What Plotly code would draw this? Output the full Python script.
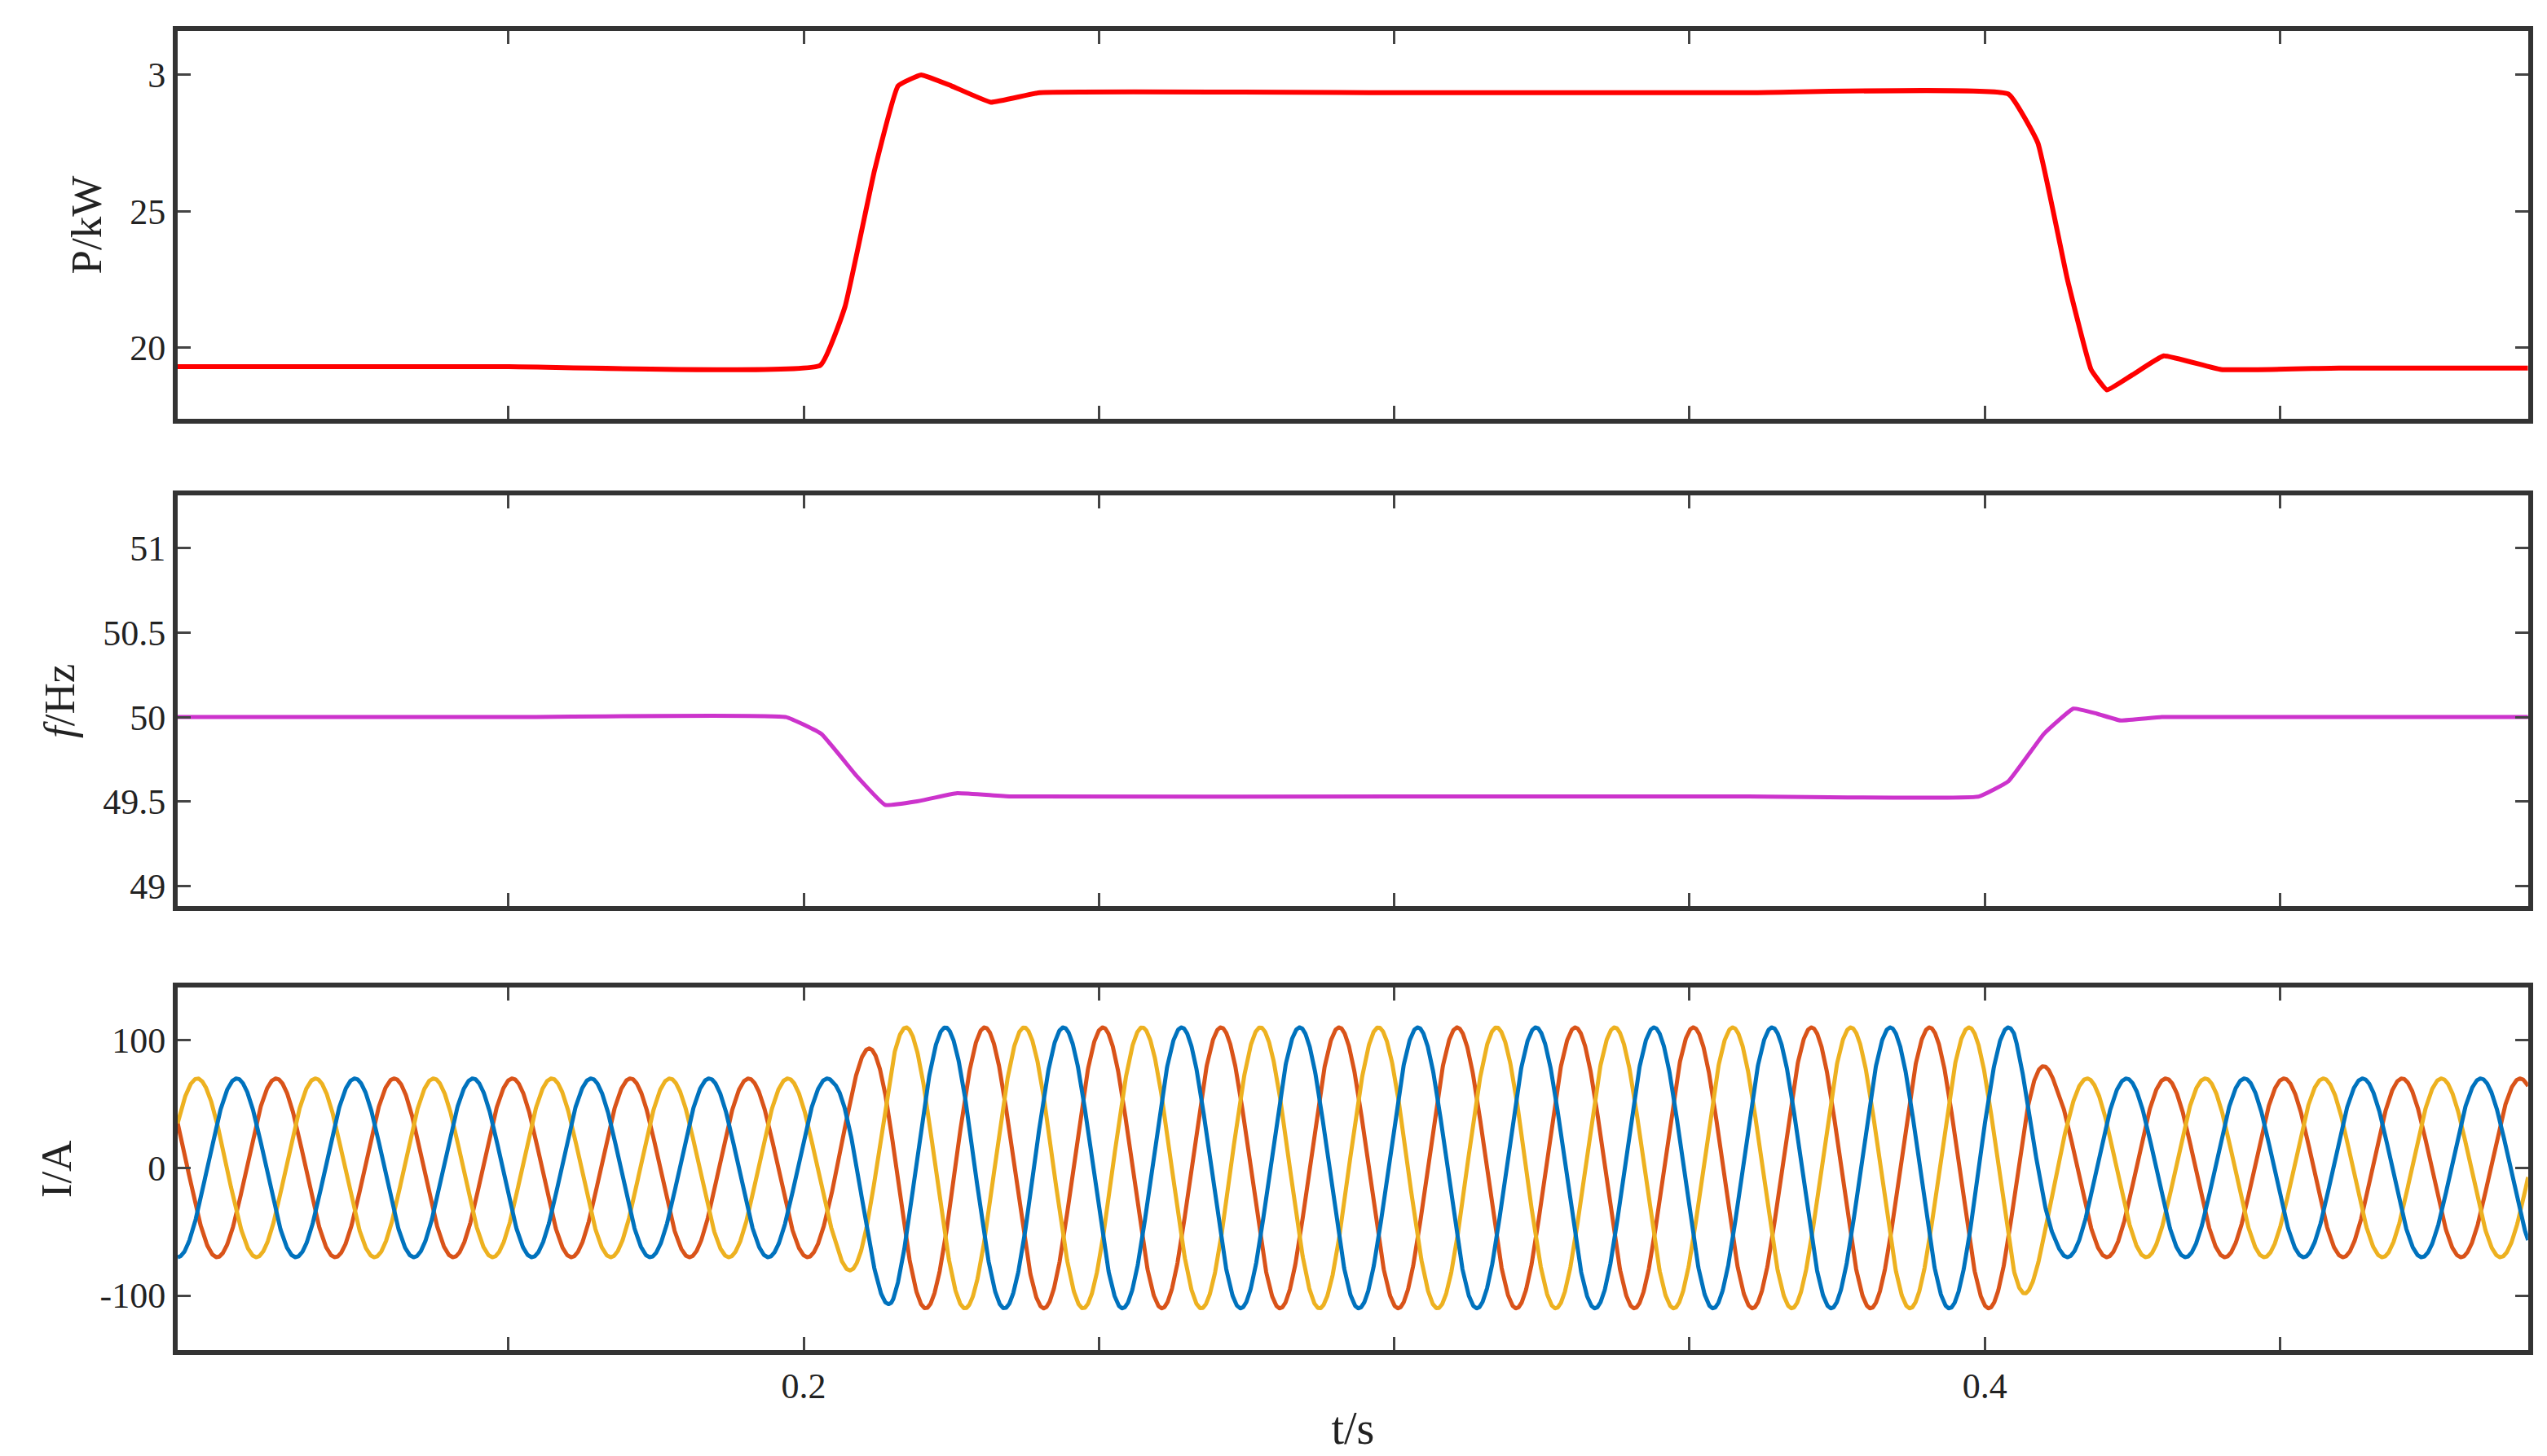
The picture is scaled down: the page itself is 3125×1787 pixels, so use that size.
import numpy as np
import plotly.graph_objects as go
from plotly.subplots import make_subplots

# Power key points (t, kW)
p_t = [0.094, 0.15, 0.2028, 0.207, 0.212, 0.216, 0.2199, 0.225, 0.2317, 0.24, 0.3, 0.36, 0.404, 0.409, 0.414, 0.418, 0.4207, 0.425, 0.4303, 0.44, 0.46, 0.492]
p_v = [19.3, 19.3, 19.35, 21.5, 26.5, 29.6, 30.0, 29.6, 29.0, 29.35, 29.35, 29.35, 29.3, 27.5, 22.5, 19.2, 18.45, 19.0, 19.7, 19.2, 19.25, 19.25]
# Frequency key points (t, Hz)
f_t = [0.094, 0.15, 0.197, 0.203, 0.209, 0.2138, 0.219, 0.226, 0.235, 0.3, 0.36, 0.399, 0.404, 0.41, 0.415, 0.419, 0.423, 0.43, 0.46, 0.492]
f_v = [50.0, 50.0, 50.0, 49.9, 49.65, 49.48, 49.5, 49.55, 49.53, 49.53, 49.53, 49.53, 49.62, 49.9, 50.05, 50.02, 49.98, 50.0, 50.0, 50.0]
# Current envelope key points (t, A amplitude)
i_t = [0.094, 0.205, 0.215, 0.405, 0.412, 0.492]
i_amp = [70, 70, 110, 110, 70, 70]
i_freq = 50.0
i_peak_t = 0.224

t = np.linspace(0.094, 0.492, 6000)
amp = np.interp(t, i_t, i_amp)
w = 2 * np.pi * i_freq
T = 1 / i_freq
ia = amp * np.cos(w * (t - i_peak_t))
ib = amp * np.cos(w * (t - i_peak_t + T / 3))
ic = amp * np.cos(w * (t - i_peak_t + 2 * T / 3))

fig = make_subplots(rows=3, cols=1)
fig.add_trace(go.Scatter(x=p_t, y=p_v, mode="lines", line=dict(color="#ff0000", width=6, shape="spline", smoothing=0.3)), 1, 1)
fig.add_trace(go.Scatter(x=f_t, y=f_v, mode="lines", line=dict(color="#cc33cc", width=5, shape="spline", smoothing=0.3)), 2, 1)
fig.add_trace(go.Scatter(x=t, y=ic, mode="lines", line=dict(color="#d95319", width=5)), 3, 1)
fig.add_trace(go.Scatter(x=t, y=ib, mode="lines", line=dict(color="#edb120", width=5)), 3, 1)
fig.add_trace(go.Scatter(x=t, y=ia, mode="lines", line=dict(color="#0072bd", width=5)), 3, 1)

font = dict(family="Liberation Serif", size=44, color="#222")
fig.update_layout(width=3125, height=1787, showlegend=False, plot_bgcolor="white", paper_bgcolor="white",
                  margin=dict(l=0, r=0, t=0, b=0), font=font)
doms = [[0.717, 0.983], [0.382, 0.664], [0.077, 0.326]]
xd = [0.0672, 0.990]
for i in range(3):
    fig.update_xaxes(row=i + 1, col=1, domain=xd, range=[0.094, 0.492], tickvals=[0.15, 0.2, 0.25, 0.3, 0.35, 0.4, 0.45],
                     ticktext=["", "0.2", "", "", "", "0.4", ""] if i == 2 else [""] * 7,
                     ticks="inside", ticklen=16, tickwidth=3, mirror="allticks", showline=True, linewidth=6,
                     linecolor="#333", showgrid=False, zeroline=False)
    fig.update_yaxes(row=i + 1, col=1, domain=doms[i], ticks="inside", ticklen=16, tickwidth=3, mirror="allticks",
                     showline=True, linewidth=6, linecolor="#333", showgrid=False, zeroline=False, title_standoff=20)
fig.update_yaxes(row=1, col=1, range=[17.4, 31.6], tickvals=[30, 25, 20], ticktext=["3", "25", "20"], title_text="P/kW")
fig.update_yaxes(row=2, col=1, range=[48.88, 51.31], tickvals=[49, 49.5, 50, 50.5, 51], ticktext=["49", "49.5", "50", "50.5", "51"],
                 title_text="<i>f</i>/Hz")
fig.update_yaxes(row=3, col=1, range=[-143, 141], tickvals=[-100, 0, 100], ticktext=["-100", "0", "100"], title_text="I/A")
fig.update_xaxes(row=3, col=1, title_text="t/s", title_font=dict(size=56), title_standoff=10)
fig.write_html("out.html")
